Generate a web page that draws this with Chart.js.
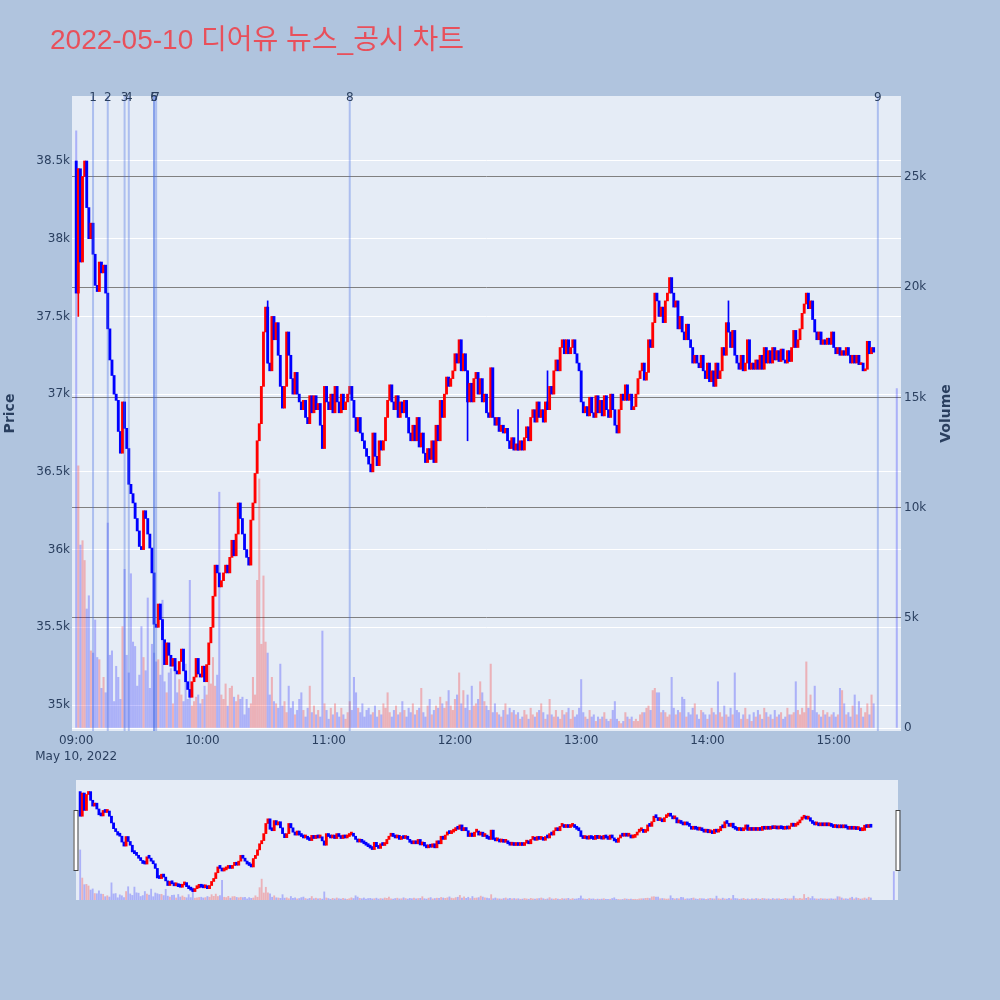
<!DOCTYPE html>
<html>
<head>
<meta charset="utf-8">
<script src="https://cdn.jsdelivr.net/npm/chart.js@4.4.0/dist/chart.umd.min.js"></script>
<style>
  html, body { margin: 0; padding: 0; background: #B0C4DE; }
  #wrap { position: relative; width: 1000px; height: 1000px; }
  #title { position: absolute; left: 50px; top: 26px; font-size: 28px; line-height: 28px;
           font-family: "Liberation Sans", "Noto Sans CJK KR", sans-serif; color: rgb(232, 80, 91); white-space: nowrap; }
  #mainChart { position: absolute; left: 0; top: 0; }
  #sliderChart { position: absolute; left: 0; top: 770px; }
</style>
</head>
<body>
<div id="wrap">
  <canvas id="mainChart" width="1000" height="770"></canvas>
  <canvas id="sliderChart" width="1000" height="140"></canvas>
  <div id="title">2022-05-10 디어유 뉴스_공시 차트</div>
</div>
<script>
// x values are minutes after 09:00
const dayLabel = "May 10, 2022";
const hourTicks = [0, 60, 120, 180, 240, 300, 360];
const hourLabels = ["09:00", "10:00", "11:00", "12:00", "13:00", "14:00", "15:00"];
const priceTicks = [35000, 35500, 36000, 36500, 37000, 37500, 38000, 38500];
const volumeTicks = [0, 5000, 10000, 15000, 20000, 25000];

// news / disclosure markers
const newsNo = ["1", "2", "3", "4", "5", "6", "7", "8", "9"];
const newsMinute = [8, 15, 23, 25, 37, 37, 38, 130, 381];

// 1-minute candles: open of first bar, then closes (next open = previous close)
const firstOpen = 38500;
const closes = [
  37650, 38450, 37850, 38400, 38500, 38200, 38000, 38100, 37900, 37700,
  37660, 37850, 37780, 37830, 37650, 37420, 37220, 37120, 37000, 36960,
  36760, 36620, 36950, 36780, 36650, 36420, 36360, 36300, 36200, 36120,
  36020, 36000, 36250, 36200, 36100, 36010, 35850, 35520, 35500, 35650,
  35550, 35420, 35260, 35400, 35320, 35250, 35300, 35220, 35200, 35280,
  35360, 35220, 35150, 35100, 35050, 35150, 35180, 35300, 35200, 35180,
  35250, 35150, 35260, 35400, 35500, 35700, 35900, 35850, 35760, 35800,
  35850, 35900, 35850, 35950, 36060, 35960, 36100, 36300, 36200, 36100,
  36000, 35950, 35900, 36190, 36300, 36490, 36700, 36810, 37050, 37400,
  37560, 37200, 37150, 37500, 37350, 37460, 37250, 37050, 36910, 37050,
  37400, 37250, 37100, 37000, 37140, 37000, 36950, 36900, 36960, 36850,
  36810, 36990, 36880, 36990, 36900, 36940, 36800, 36650, 37050, 36950,
  36900, 37000, 36880, 37050, 36950, 36880, 37000, 36900, 36950, 37000,
  37050, 36960, 36850, 36760, 36850, 36750, 36700, 36650, 36600, 36550,
  36500, 36750, 36600, 36540, 36700, 36640, 36700, 36850, 36960, 37060,
  36950, 36900, 36990, 36850, 36950, 36880, 36960, 36850, 36750, 36700,
  36800, 36700, 36850, 36660, 36750, 36620, 36560, 36650, 36580, 36700,
  36560, 36800, 36700, 36960, 36850, 37000, 37110, 37050, 37100, 37150,
  37260, 37200, 37350, 37150, 37260, 37150, 36950, 37070, 36950, 37100,
  37140, 37000, 37100, 36950, 37000, 36880, 36850, 37170, 36850, 36800,
  36850, 36760, 36800, 36750, 36780, 36700, 36650, 36720, 36640, 36680,
  36640, 36700, 36640, 36720, 36790, 36700, 36850, 36900, 36820, 36950,
  36850, 36900, 36820, 36950, 36900, 37050, 37000, 37150, 37220, 37150,
  37300, 37350, 37260, 37350, 37260, 37300, 37350, 37260, 37200, 37150,
  36950, 36880, 36920, 36860, 36980, 36880, 36850, 36990, 36880, 36960,
  36860, 36990, 36900, 36850, 37000, 36900, 36800, 36750, 36900, 37000,
  36960, 37060, 36960, 37000, 36900, 36920, 37000, 37100, 37150, 37200,
  37090, 37140, 37350, 37300, 37460, 37650, 37600, 37500, 37560, 37460,
  37600, 37650, 37750, 37650, 37560, 37600, 37420, 37500, 37400, 37350,
  37450, 37350, 37300, 37200, 37250, 37200, 37170, 37250, 37150, 37100,
  37200, 37080, 37150, 37050, 37200, 37100, 37150, 37300, 37250, 37460,
  37400, 37300, 37410, 37250, 37200, 37160, 37250, 37150, 37200, 37350,
  37160, 37200, 37160, 37220, 37160, 37250, 37160, 37300, 37200, 37280,
  37200, 37300, 37220, 37280, 37210, 37290, 37220, 37200, 37280, 37210,
  37300, 37410, 37300, 37350, 37420, 37520, 37580, 37650, 37550, 37600,
  37480, 37400, 37350, 37400, 37320, 37350, 37320, 37360, 37320, 37400,
  37300, 37260, 37300, 37250, 37280, 37250, 37300, 37250, 37200, 37250,
  37200, 37250, 37190, 37200, 37150, 37160, 37340, 37260, 37300, 37270
];
// [minute, low, high] for the visible shadows
const wicks = [
  [1, 37500, 38450], [91, 37200, 37600], [186, 36700, 37150],
  [210, 36640, 36900], [224, 36900, 37150], [310, 37400, 37600]
];
const volumes = [
  27100, 11900, 8300, 8500, 7600, 5400, 6000, 3500, 3400, 4900,
  3200, 3100, 1800, 2300, 1600, 9300, 3300, 3500, 1200, 2800,
  2300, 1300, 4600, 7200, 3300, 2500, 7000, 3900, 3700, 1900,
  2400, 4600, 3200, 2600, 5900, 1800, 3800, 3400, 3000, 3100,
  2400, 5800, 2100, 1600, 2500, 2700, 1100, 3000, 1600, 2200,
  1500, 1200, 2900, 1300, 6700, 1000, 1200, 1400, 1500, 1100,
  1300, 1900, 1500, 2900, 2000, 3200, 1900, 2400, 10700, 1500,
  1300, 2000, 1000, 1800, 1900, 1400, 1200, 1500, 1300, 1400,
  600, 1300, 900, 1100, 2300, 1500, 6700, 11300, 3800, 6900,
  3900, 3400, 1500, 2300, 1200, 1100, 900, 2900, 1000, 1200,
  700, 1900, 900, 1200, 600, 800, 1300, 1600, 800, 500,
  900, 1900, 700, 1000, 600, 800, 500, 4400, 1100, 800,
  400, 900, 600, 1100, 700, 500, 900, 600, 400, 700,
  1200, 800, 2300, 1600, 900, 700, 1100, 500, 800, 900,
  600, 700, 1000, 500, 800, 600, 1100, 900, 1600, 700,
  500, 800, 1000, 600, 700, 1200, 800, 500, 900, 700,
  1100, 600, 800, 900, 1800, 700, 500, 1000, 1300, 600,
  800, 1000, 900, 1400, 1100, 900, 1200, 1700, 1000, 800,
  1300, 1500, 2500, 1100, 1700, 900, 1500, 800, 1900, 1000,
  1100, 1300, 2100, 1600, 1200, 1000, 800, 2900, 700, 1100,
  700, 600, 500, 800, 1100, 600, 900, 700, 800, 600,
  700, 400, 500, 800, 600, 400, 900, 600, 500, 700,
  800, 1100, 700, 400, 600, 1300, 600, 500, 800, 500,
  400, 800, 600, 700, 900, 400, 800, 500, 600, 900,
  2200, 700, 500, 400, 800, 500, 600, 300, 500, 400,
  500, 700, 400, 300, 400, 800, 1200, 400, 300, 200,
  300, 700, 500, 400, 500, 300, 400, 300, 600, 700,
  700, 900, 1000, 800, 1700, 1800, 1600, 1600, 700, 800,
  700, 500, 600, 2300, 900, 600, 800, 700, 1400, 1300,
  500, 700, 600, 900, 1100, 600, 400, 800, 700, 600,
  400, 600, 900, 700, 600, 2100, 700, 500, 1000, 600,
  500, 900, 600, 2500, 800, 700, 400, 600, 900, 400,
  600, 300, 700, 500, 800, 600, 400, 900, 700, 500,
  600, 400, 800, 500, 600, 700, 400, 500, 900, 600,
  600, 700, 2100, 800, 600, 900, 700, 3000, 900, 1500,
  800, 1900, 700, 600, 500, 800, 600, 700, 500, 600,
  700, 500, 600, 1800, 1700, 1100, 600, 700, 500, 1000,
  1500, 600, 1200, 900, 500, 700, 1100, 600, 1500, 1100
];
// closing auction
const auctionMinute = 390;
const auctionVolume = 15400;

const UP = "#ff0000", DOWN = "#0000ff";
const UP_VOL = "rgba(255,0,0,0.25)", DOWN_VOL = "rgba(0,0,255,0.25)";

const opens = closes.map((c, i) => i === 0 ? firstOpen : closes[i - 1]);
const isUp = closes.map((c, i) => c >= opens[i]);
const bodyData = closes.map((c, i) => ({ x: i, y: [opens[i], c] }));
const bodyColors = isUp.map(u => u ? UP : DOWN);
const wickData = wicks.map(w => ({ x: w[0], y: [w[1], w[2]] }));
const wickColors = wicks.map(w => isUp[w[0]] ? UP : DOWN);
const volData = volumes.map((v, i) => ({ x: i, y: v })).concat([{ x: auctionMinute, y: auctionVolume }]);
const volColors = isUp.map(u => u ? UP_VOL : DOWN_VOL).concat([DOWN_VOL]);

Chart.defaults.font.family = '"DejaVu Sans", sans-serif';
Chart.defaults.font.size = 12;
Chart.defaults.color = "#2a3f5f";

// plot area background
const plotBg = {
  id: "plotBg",
  beforeDraw(chart) {
    const { ctx, chartArea: a } = chart;
    ctx.save();
    ctx.fillStyle = "#E5ECF6";
    ctx.fillRect(a.left, a.top, a.right - a.left, a.bottom - a.top);
    ctx.restore();
  }
};

// vertical news lines with their numbers
const newsLines = {
  id: "newsLines",
  afterDatasetsDraw(chart) {
    const { ctx, chartArea: a, scales: { x } } = chart;
    ctx.save();
    ctx.strokeStyle = "rgba(65,105,225,0.35)";
    ctx.lineWidth = 2;
    ctx.fillStyle = "#2a3f5f";
    ctx.font = '12px "DejaVu Sans"';
    ctx.textAlign = "center";
    ctx.textBaseline = "alphabetic";
    newsMinute.forEach((m, k) => {
      const px = x.getPixelForValue(m);
      ctx.beginPath();
      ctx.moveTo(px, a.top);
      ctx.lineTo(px, a.bottom);
      ctx.stroke();
      ctx.fillText(newsNo[k], px, a.top + 5);
    });
    ctx.restore();
  }
};

// both axis titles read bottom-to-top
const axisTitles = {
  id: "axisTitles",
  afterDraw(chart) {
    const { ctx, chartArea: a } = chart;
    const midY = (a.top + a.bottom) / 2;
    ctx.save();
    ctx.fillStyle = "#2a3f5f";
    ctx.font = 'bold 14px "DejaVu Sans"';
    ctx.textAlign = "center";
    ctx.textBaseline = "middle";
    [["Price", 10], ["Volume", 946]].forEach(([t, px]) => {
      ctx.save();
      ctx.translate(px, midY);
      ctx.rotate(-Math.PI / 2);
      ctx.fillText(t, 0, 0);
      ctx.restore();
    });
    ctx.restore();
  }
};

const sliderHandles = {
  id: "sliderHandles",
  afterDraw(chart) {
    const { ctx, chartArea: a } = chart;
    ctx.save();
    ctx.fillStyle = "#ffffff";
    ctx.strokeStyle = "#444444";
    ctx.lineWidth = 1;
    [a.left - 2.5, a.right - 2.5].forEach(hx => {
      ctx.fillRect(hx, a.top + 30, 4, 60);
      ctx.strokeRect(hx + 0.5, a.top + 30.5, 4, 60);
    });
    ctx.restore();
  }
};

new Chart(document.getElementById("mainChart"), {
  type: "bar",
  data: {
    datasets: [
      { data: volData, yAxisID: "y1", backgroundColor: volColors, barThickness: 1.4, grouped: false, order: 3 },
      { data: wickData, yAxisID: "y", backgroundColor: wickColors, barThickness: 1, grouped: false, order: 2 },
      { data: bodyData, yAxisID: "y", backgroundColor: bodyColors, barThickness: 2.2, minBarLength: 2, grouped: false, order: 1 }
    ]
  },
  options: {
    responsive: false,
    animation: false,
    events: [],
    layout: { autoPadding: false, padding: { top: 96, right: 44, bottom: 0, left: 0 } },
    plugins: { legend: { display: false }, tooltip: { enabled: false } },
    scales: {
      x: {
        type: "linear", min: -2, max: 392, offset: false,
        grid: { display: false, drawTicks: false },
        border: { display: false },
        afterBuildTicks: s => { s.ticks = hourTicks.map(v => ({ value: v })); },
        afterFit: s => { s.height = 39; },
        ticks: {
          autoSkip: false, maxRotation: 0, padding: 2,
          font: { size: 12, lineHeight: 1.33 },
          callback: v => {
            const k = hourTicks.indexOf(v);
            return k === 0 ? [hourLabels[k], dayLabel] : hourLabels[k];
          }
        }
      },
      y: {
        position: "left", min: 34833, max: 38918,
        grid: { color: "#ffffff", lineWidth: 1, drawTicks: false },
        border: { display: false },
        afterBuildTicks: s => { s.ticks = priceTicks.map(v => ({ value: v })); },
        afterFit: s => { s.width = 72; },
        ticks: { padding: 2, callback: v => (v / 1000) + "k" }
      },
      y1: {
        position: "right", min: -136, max: 28675,
        grid: {
          color: c => c.tick && c.tick.value === 0 ? "#ffffff" : "#808080",
          lineWidth: 1, drawTicks: false
        },
        border: { display: false },
        afterBuildTicks: s => { s.ticks = volumeTicks.map(v => ({ value: v })); },
        afterFit: s => { s.width = 55; },
        ticks: { padding: 3, callback: v => v === 0 ? "0" : (v / 1000) + "k" }
      }
    }
  },
  plugins: [plotBg, newsLines, axisTitles]
});

new Chart(document.getElementById("sliderChart"), {
  type: "bar",
  data: {
    datasets: [
      { data: volData, yAxisID: "y1", backgroundColor: volColors, barThickness: 1.2, grouped: false, order: 2 },
      { data: bodyData, yAxisID: "y", backgroundColor: bodyColors, barThickness: 2.2, minBarLength: 3, grouped: false, order: 1 }
    ]
  },
  options: {
    responsive: false,
    animation: false,
    events: [],
    layout: { autoPadding: false, padding: { top: 10, right: 102, bottom: 10, left: 76 } },
    plugins: { legend: { display: false }, tooltip: { enabled: false } },
    scales: {
      x: { type: "linear", min: -2, max: 392, offset: false, display: false },
      y: { min: 34760, max: 38900, display: false },
      y1: { min: 0, max: 65000, display: false }
    }
  },
  plugins: [plotBg, sliderHandles]
});
</script>
</body>
</html>
